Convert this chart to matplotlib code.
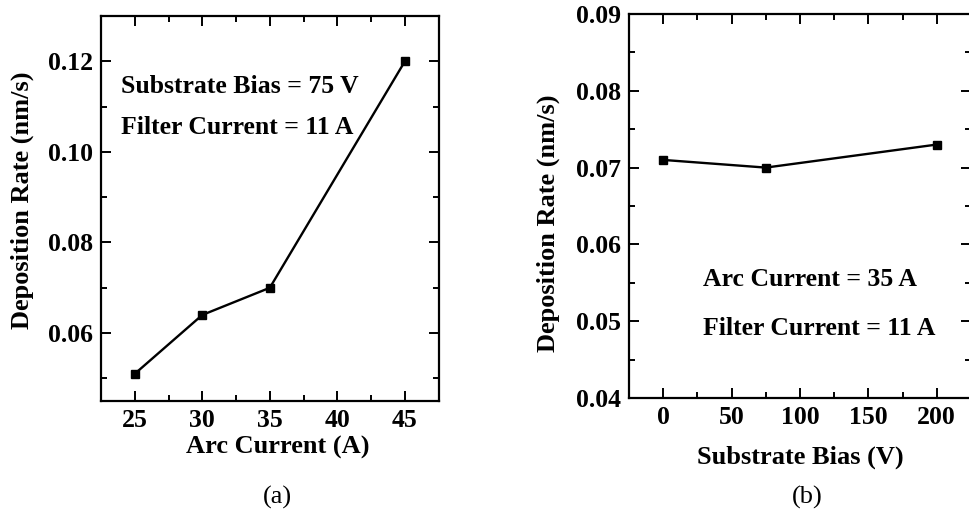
import matplotlib.pyplot as plt
from matplotlib.ticker import MultipleLocator

plt.rcParams["font.family"] = ["Liberation Serif", "DejaVu Serif"]
plt.rcParams["font.weight"] = "bold"

# (a) deposition rate vs arc current
arc_current = [25, 30, 35, 45]
rate_a = [0.051, 0.064, 0.070, 0.120]

# (b) deposition rate vs substrate bias
substrate_bias = [0, 75, 200]
rate_b = [0.071, 0.070, 0.073]

fig = plt.figure(figsize=(9.69, 5.13), dpi=100)
ax_a = fig.add_axes([0.1042, 0.2183, 0.3485, 0.7505])
ax_b = fig.add_axes([0.6491, 0.2242, 0.3529, 0.7485])


def style_axes(ax):
    for sp in ax.spines.values():
        sp.set_linewidth(1.6)
    ax.tick_params(which="both", direction="in", top=True, right=True,
                   labeltop=False, labelright=False, width=1.4,
                   labelsize=18.5, pad=6)
    ax.tick_params(which="major", length=7)
    ax.tick_params(which="minor", length=4)
    for lbl in ax.get_xticklabels() + ax.get_yticklabels():
        lbl.set_fontweight("bold")


ax_a.plot(arc_current, rate_a, color="black", linewidth=1.7,
          marker="s", markersize=6)
ax_a.set_xlim(22.5, 47.5)
ax_a.set_ylim(0.045, 0.130)
ax_a.xaxis.set_major_locator(MultipleLocator(5))
ax_a.xaxis.set_minor_locator(MultipleLocator(2.5))
ax_a.yaxis.set_major_locator(MultipleLocator(0.02))
ax_a.yaxis.set_minor_locator(MultipleLocator(0.01))
ax_a.yaxis.set_major_formatter(lambda v, p: f"{v:.2f}")
style_axes(ax_a)
ax_a.text(24.0, 0.1145, "Substrate Bias = 75 V", fontsize=18.5,
          fontweight="bold", va="center")
ax_a.text(24.0, 0.1053, "Filter Current = 11 A", fontsize=18.5,
          fontweight="bold", va="center")

ax_b.plot(substrate_bias, rate_b, color="black", linewidth=1.7,
          marker="s", markersize=6)
ax_b.set_xlim(-25, 225)
ax_b.set_ylim(0.04, 0.09)
ax_b.xaxis.set_major_locator(MultipleLocator(50))
ax_b.xaxis.set_minor_locator(MultipleLocator(25))
ax_b.yaxis.set_major_locator(MultipleLocator(0.01))
ax_b.yaxis.set_minor_locator(MultipleLocator(0.005))
ax_b.yaxis.set_major_formatter(lambda v, p: f"{v:.2f}")
style_axes(ax_b)
ax_b.text(29.4, 0.0554, "Arc Current = 35 A", fontsize=18.5,
          fontweight="bold", va="center")
ax_b.text(29.4, 0.0491, "Filter Current = 11 A", fontsize=18.5,
          fontweight="bold", va="center")

# axis labels and panel captions
fig.text(22 / 969, 1 - 200 / 513, "Deposition Rate (nm/s)", rotation=90,
         fontsize=19, fontweight="bold", ha="center", va="center")
fig.text(548 / 969, 1 - 223 / 513, "Deposition Rate (nm/s)", rotation=90,
         fontsize=19, fontweight="bold", ha="center", va="center")
fig.text(278 / 969, 1 - 447 / 513, "Arc Current (A)", fontsize=19,
         fontweight="bold", ha="center", va="center")
fig.text(800 / 969, 1 - 457 / 513, "Substrate Bias (V)", fontsize=19,
         fontweight="bold", ha="center", va="center")
fig.text(277 / 969, 1 - 497 / 513, "(a)", fontsize=19,
         fontweight="normal", ha="center", va="center")
fig.text(807 / 969, 1 - 497 / 513, "(b)", fontsize=19,
         fontweight="normal", ha="center", va="center")

fig.savefig("out.png", dpi=100)
